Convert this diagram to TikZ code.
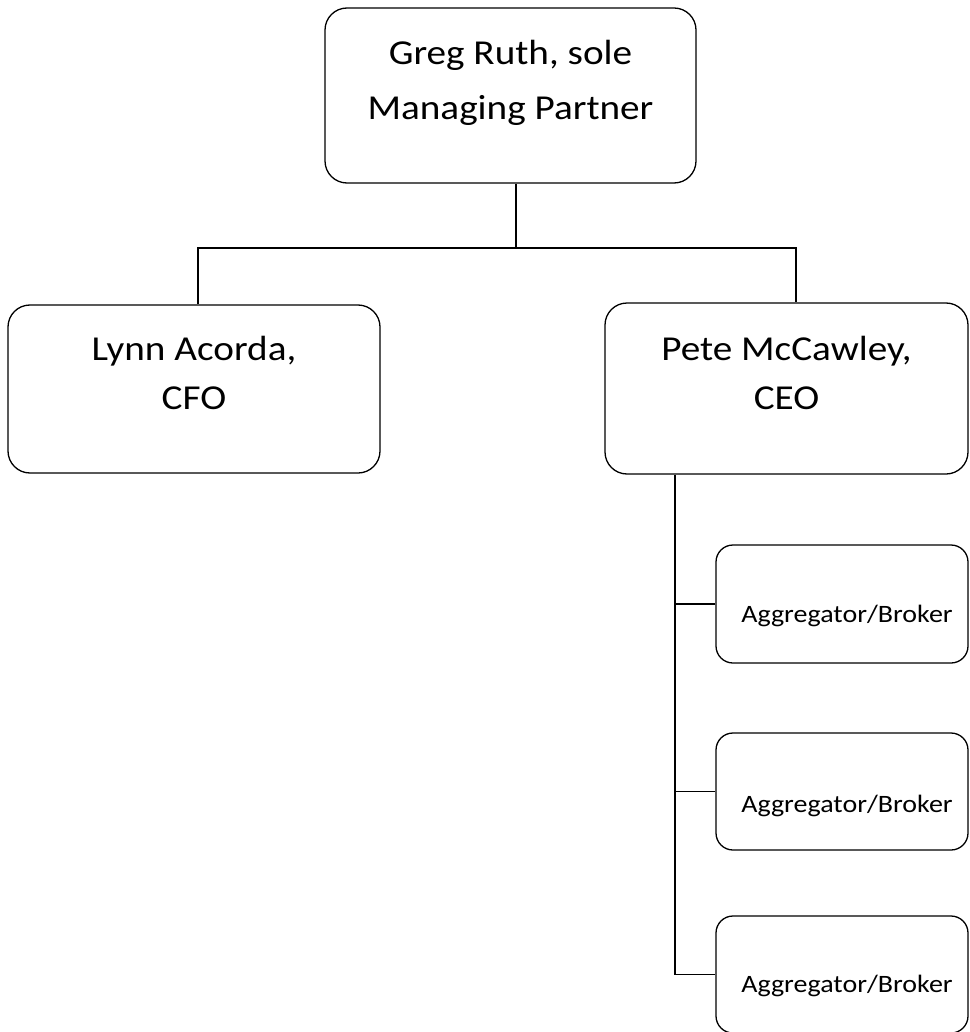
\documentclass[tikz,border=0pt]{standalone}
\usepackage{fontspec}
\setmainfont{Carlito}
\newfontfamily\widefont[FakeStretch=1.12]{Carlito}
\usetikzlibrary{calc}
\begin{document}
\begin{tikzpicture}[x=1pt,y=-1pt,
  orgbox/.style={draw=black, line width=1.3pt, rounded corners=22pt, fill=white},
  smallbox/.style={orgbox, rounded corners=17pt, minimum width=252pt, minimum height=117pt},
  bigtext/.style={align=center, anchor=base, inner sep=0pt},
  smalltext/.style={font=\widefont\fontsize{25}{30}\selectfont, anchor=base, inner sep=0pt},
  link/.style={line width=1.3pt}]
\useasboundingbox (0,0) rectangle (969,1032);

% boxes
\node[orgbox, minimum width=371pt, minimum height=175pt] (greg) at (510.5,95.5) {};
\node[orgbox, minimum width=372pt, minimum height=168pt] (lynn) at (194,389) {};
\node[orgbox, minimum width=363pt, minimum height=171pt] (ceo) at (786.5,388.5) {};
\node[smallbox, minimum height=118pt] (ab1) at (842,604) {};
\node[smallbox] (ab2) at (842,791.5) {};
\node[smallbox] (ab3) at (842,974.5) {};

% texts (anchor base = baseline of the last line)
\node[bigtext, font=\widefont\fontsize{35}{55}\selectfont] (gregtext) at (510.5,120) {Greg Ruth, sole\\Managing Partner};
\node[bigtext, font=\widefont\fontsize{35}{49}\selectfont] (lynntext) at (194,409) {Lynn Acorda,\\CFO};
\node[bigtext, font=\widefont\fontsize{35}{49}\selectfont] (ceotext) at (786.5,409) {Pete McCawley,\\CEO};
\node[smalltext] (ab1text) at (847,622) {Aggregator/Broker};
\node[smalltext] (ab2text) at (847,812) {Aggregator/Broker};
\node[smalltext] (ab3text) at (847,992) {Aggregator/Broker};

% connectors
\coordinate (bus) at (516,248);
\coordinate (spine) at ([xshift=-111.5pt]ceo.south);
\draw[link] (bus |- greg.south) -- (bus);
\draw[link] ([xshift=4pt]lynn.north) |- (bus) -| ([xshift=9.5pt]ceo.north);
\draw[link] (spine) |- (ab3.west);
\draw[link] (ab1.west) -- (ab1.west -| spine);
\draw[link] (ab2.west) -- (ab2.west -| spine);
\end{tikzpicture}
\end{document}
